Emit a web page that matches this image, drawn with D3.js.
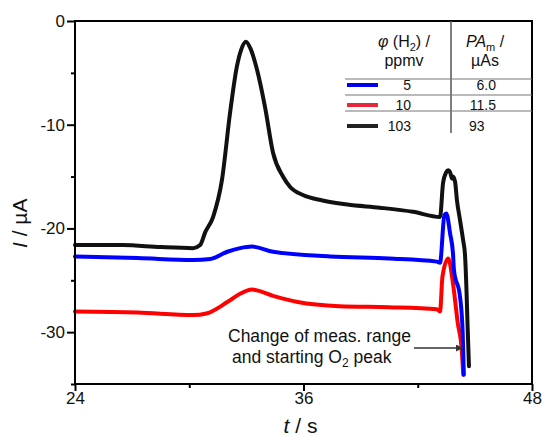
<!DOCTYPE html>
<html>
<head>
<meta charset="utf-8">
<script src="https://cdn.jsdelivr.net/npm/d3@7"></script>
<style>
  body { margin: 0; background: #fff; }
  svg { display: block; }
  text { font-family: "Liberation Sans", Arial, sans-serif; fill: #111; }
</style>
</head>
<body>
<svg width="543" height="437"></svg>
<script>
// values (t in s, I in uA)
var blackT = [24, 26.5, 28.5, 30.2, 30.57, 30.83, 31.25, 31.72, 32.14, 32.5, 32.72, 32.98, 33.2, 33.56, 33.98, 34.4, 34.92, 35.3, 36.0, 37.0, 38.3, 40.0, 41.75, 43.17, 43.33, 43.49, 43.6, 43.7, 43.8, 43.85, 43.96, 44.06, 44.22, 44.38, 44.48, 44.56, 44.61, 44.69];
var blackI = [-21.6, -21.6, -21.8, -21.9, -21.6, -20.4, -18.9, -15.3, -8.9, -4.4, -2.8, -2.0, -2.6, -4.7, -8.3, -12.7, -15.0, -16.0, -16.8, -17.3, -17.7, -18.0, -18.4, -18.9, -15.6, -14.6, -14.4, -14.6, -15.2, -15.0, -15.5, -17.3, -19.2, -21.1, -22.5, -26.0, -29.0, -33.3];

var blueT = [24, 27.3, 30.2, 31.1, 32.0, 32.67, 33.3, 34.4, 37.4, 40.5, 43.0, 43.17, 43.4, 43.5, 43.7, 43.85, 43.9, 44.22, 44.36, 44.42];
var blueI = [-22.7, -22.85, -23.05, -22.95, -22.25, -21.9, -21.75, -22.25, -22.7, -22.9, -23.2, -23.3, -18.7, -18.55, -20.5, -22.4, -24.0, -26.6, -30.1, -34.1];

var redT = [24, 27.3, 30.2, 30.9, 32.0, 32.67, 33.3, 34.4, 35.7, 37.9, 40.5, 43.0, 43.17, 43.3, 43.6, 43.85, 44.1, 44.31, 44.39];
var redI = [-28.0, -28.1, -28.35, -28.2, -27.1, -26.3, -25.9, -26.5, -27.1, -27.5, -27.6, -27.8, -28.0, -24.6, -22.9, -25.3, -29.1, -31.7, -34.1];

var xMajor = [24, 36, 48];
var xMinor = [30, 42];
var yMajor = [0, -10, -20, -30];
var yMinor = [-5, -15, -25, -35];

var legendConc = ["5", "10", "103"];
var legendArea = ["6.0", "11.5", "93"];

var curveColors = ["#ff0000", "#0000ff", "#111111"];
var sampleColors = ["#0000ee", "#e8283a", "#222222"];

var svg = d3.select("svg"),
    margin = {top: 21, right: 11, bottom: 53, left: 75},
    width = +svg.attr("width") - margin.left - margin.right,
    height = +svg.attr("height") - margin.top - margin.bottom,
    g = svg.append("g").attr("transform", "translate(" + margin.left + "," + margin.top + ")");

var x = d3.scaleLinear().domain([24, 48]).range([0, width]);
var y = d3.scaleLinear().domain([-35, 0]).range([height, 0]);

function zip(ts, is) {
    return ts.map(function(t, i) { return {t: t, v: is[i]}; });
}

var series = [zip(redT, redI), zip(blueT, blueI), zip(blackT, blackI)];

var line = d3.line()
    .x(function(d) { return x(d.t); })
    .y(function(d) { return y(d.v); })
    .curve(d3.curveMonotoneX);

g.selectAll("path.curve")
    .data(series)
    .enter().append("path")
    .attr("class", "curve")
    .attr("d", line)
    .attr("fill", "none")
    .attr("stroke", function(d, i) { return curveColors[i]; })
    .attr("stroke-width", 4)
    .attr("stroke-linejoin", "round")
    .attr("stroke-linecap", "round");

// axes
function styleAxis(sel) {
    sel.select(".domain").remove();
    sel.selectAll("line").attr("stroke", "#000").attr("stroke-width", 2);
    sel.selectAll("text").attr("font-size", 17).attr("fill", "#111");
}

g.append("g")
    .call(d3.axisLeft(y).tickValues(yMajor).tickSize(8).tickPadding(2)
        .tickFormat(function(d) { return String(d); }))
    .call(styleAxis);
g.append("g")
    .call(d3.axisLeft(y).tickValues(yMinor).tickSize(4).tickFormat(""))
    .call(styleAxis);
g.append("g")
    .attr("transform", "translate(0," + height + ")")
    .call(d3.axisBottom(x).tickValues(xMajor).tickSize(7).tickPadding(1)
        .tickFormat(function(d) { return String(d); }))
    .call(styleAxis);
g.append("g")
    .attr("transform", "translate(0," + height + ")")
    .call(d3.axisBottom(x).tickValues(xMinor).tickSize(4).tickFormat(""))
    .call(styleAxis);

// frame
g.append("rect")
    .attr("width", width)
    .attr("height", height)
    .attr("fill", "none")
    .attr("stroke", "#000")
    .attr("stroke-width", 2);

// axis titles
var xt = svg.append("text")
    .attr("x", margin.left + x(36) - 3)
    .attr("y", 433)
    .attr("text-anchor", "middle")
    .attr("font-size", 21);
xt.append("tspan").attr("font-style", "italic").text("t");
xt.append("tspan").text(" / s");

var yt = svg.append("text")
    .attr("transform", "translate(27," + (margin.top + y(-19.5)) + ") rotate(-90)")
    .attr("text-anchor", "middle")
    .attr("font-size", 21);
yt.append("tspan").attr("font-style", "italic").text("I");
yt.append("tspan").text(" / µA");

// legend table
var lg = svg.append("g");
var colX = 451, rowLines = [79, 95, 111];

lg.append("line")
    .attr("x1", colX).attr("x2", colX)
    .attr("y1", margin.top).attr("y2", 133)
    .attr("stroke", "#555").attr("stroke-width", 1.5);

lg.selectAll("line.row")
    .data(rowLines)
    .enter().append("line")
    .attr("class", "row")
    .attr("x1", 345).attr("x2", margin.left + width)
    .attr("y1", function(d) { return d; })
    .attr("y2", function(d) { return d; })
    .attr("stroke", "#777").attr("stroke-width", 1.2);

var h1 = lg.append("text").attr("x", 404).attr("y", 47).attr("text-anchor", "middle").attr("font-size", 16);
h1.append("tspan").attr("font-style", "italic").text("φ");
h1.append("tspan").text(" (H");
h1.append("tspan").attr("font-size", 11).attr("dy", 4).text("2");
h1.append("tspan").attr("dy", -4).text(") /");
lg.append("text").attr("x", 404).attr("y", 66).attr("text-anchor", "middle").attr("font-size", 16).text("ppmv");

var h2 = lg.append("text").attr("x", 485).attr("y", 47).attr("text-anchor", "middle").attr("font-size", 16);
h2.append("tspan").attr("font-style", "italic").text("PA");
h2.append("tspan").attr("font-size", 11).attr("dy", 4).text("m");
h2.append("tspan").attr("dy", -4).text(" /");
lg.append("text").attr("x", 485).attr("y", 66).attr("text-anchor", "middle").attr("font-size", 16).text("µAs");

var rowY = [85, 105, 126];
var rows = lg.selectAll("g.lrow")
    .data(legendConc)
    .enter().append("g")
    .attr("class", "lrow")
    .attr("transform", function(d, i) { return "translate(0," + rowY[i] + ")"; });

rows.append("line")
    .attr("x1", 347).attr("x2", 378)
    .attr("stroke", function(d, i) { return sampleColors[i]; })
    .attr("stroke-width", 4);

rows.append("text")
    .attr("x", 411).attr("y", 4.5)
    .attr("text-anchor", "end")
    .attr("font-size", 14)
    .text(function(d) { return d; });

rows.append("text")
    .attr("x", function(d, i) { return i < 2 ? 496 : 469; })
    .attr("y", 4.5)
    .attr("text-anchor", function(d, i) { return i < 2 ? "end" : "start"; })
    .attr("font-size", 14)
    .text(function(d, i) { return legendArea[i]; });

// annotation
svg.append("defs").append("marker")
    .attr("id", "arrow")
    .attr("viewBox", "0 0 10 10")
    .attr("refX", 10).attr("refY", 5)
    .attr("markerWidth", 9).attr("markerHeight", 7)
    .attr("markerUnits", "userSpaceOnUse")
    .attr("orient", "auto")
    .append("path").attr("d", "M0,0L10,5L0,10z").attr("fill", "#333");

svg.append("line")
    .attr("x1", 414).attr("x2", 463)
    .attr("y1", 348).attr("y2", 348)
    .attr("stroke", "#333").attr("stroke-width", 1.3)
    .attr("marker-end", "url(#arrow)");

svg.append("text").attr("x", 228).attr("y", 342).attr("font-size", 17.5).attr("fill", "#222")
    .text("Change of meas. range");
var a2 = svg.append("text").attr("x", 232).attr("y", 363).attr("font-size", 17.5).attr("fill", "#222");
a2.append("tspan").text("and starting O");
a2.append("tspan").attr("font-size", 12).attr("dy", 4).text("2");
a2.append("tspan").attr("dy", -4).text(" peak");
</script>
</body>
</html>
